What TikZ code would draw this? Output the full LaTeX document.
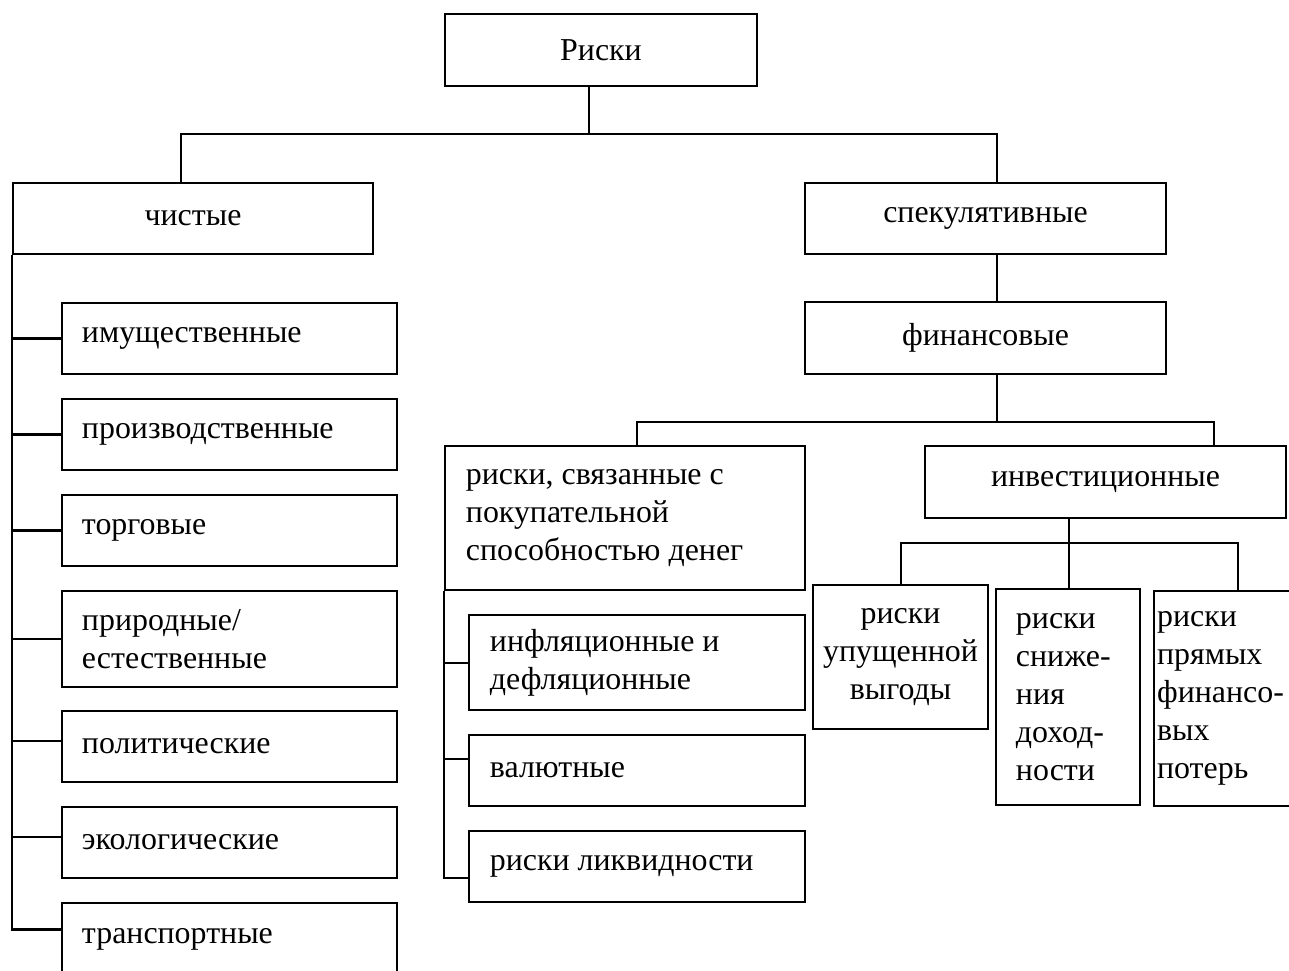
\documentclass[tikz,border=0pt]{standalone}
\usepackage{fontspec}
\setmainfont{Liberation Serif}

\begin{document}
\begin{tikzpicture}[x=0.42pt, y=-0.42pt,
    every node/.style={font=\fontsize{13.4pt}{16pt}\selectfont},
    cbox/.style={draw, line width=0.85pt, align=center, inner sep=0pt},
    lbox/.style={draw, line width=0.85pt, align=flush left, inner ysep=0pt, inner xsep=8.4pt},
    link/.style={line width=0.85pt}
]
\useasboundingbox (0,0) rectangle (1289,970);

% Top levels
\node[cbox, minimum width=131pt, minimum height=30.2pt] (risks) at (601,50) {Риски};
\node[cbox, minimum width=151.2pt, minimum height=29.8pt] (pure) at (193,218.5) {чистые};
\node[cbox, minimum width=151.6pt, minimum height=29.8pt] (spec) at (985.5,218.5) {спекулятивные};
\node[cbox, minimum width=151.6pt, minimum height=30.2pt] (fin) at (985.5,338) {финансовые};

% Pure risks
\node[lbox, text width=123.9pt, minimum height=29.8pt] (imus) at (229.5,338.5) {имущественные};
\node[lbox, text width=123.9pt, minimum height=29.8pt] (proizv) at (229.5,434.5) {производственные};
\node[lbox, text width=123.9pt, minimum height=29.8pt] (torg) at (229.5,530.5) {торговые};
\node[lbox, text width=123.9pt, minimum height=40.3pt] (prirod) at (229.5,639) {природные/\\естественные};
\node[lbox, text width=123.9pt, minimum height=29.8pt] (polit) at (229.5,746.5) {политические};
\node[lbox, text width=123.9pt, minimum height=29.8pt] (eko) at (229.5,842.5) {экологические};
\node[lbox, text width=123.9pt, minimum height=30.2pt] (transp) at (229.5,939) {транспортные};

% Financial risks
\node[lbox, inner xsep=8.8pt, text width=133.6pt, minimum height=60.5pt] (pokup) at (625,518) {риски, связанные с\\покупательной\\способностью денег};
\node[cbox, minimum width=151.6pt, minimum height=30.2pt] (invest) at (1105.5,482) {инвестиционные};

\node[lbox, inner xsep=8.8pt, text width=123.5pt, minimum height=39.9pt] (infl) at (637,662.5) {инфляционные и\\дефляционные};
\node[lbox, inner xsep=8.8pt, text width=123.5pt, minimum height=29.8pt] (valut) at (637,770.5) {валютные};
\node[lbox, inner xsep=8.8pt, text width=123.5pt, minimum height=29.8pt] (likv) at (637,866.5) {риски ликвидности};

\node[cbox, minimum width=73.5pt, minimum height=60.5pt] (upush) at (900.5,657) {риски\\упущенной\\выгоды};
\node[lbox, text width=43.7pt, minimum height=90.7pt] (snizh) at (1068,697) {риски\\сниже-\\ния\\доход-\\ности};
\node[lbox, inner xsep=1.3pt, text width=58.7pt, minimum height=90.3pt] (pryam) at (1227,698.5) {риски\\прямых\\финансо-\\вых\\потерь};

% Junctions
\coordinate (j0) at (589,134);
\coordinate (jL) at (181,134);
\coordinate (jR) at (997,134);
\coordinate (f0) at (997,422);
\coordinate (fL) at (637,422);
\coordinate (fR) at (1214,422);
\coordinate (i0) at (1069,543);
\coordinate (iL) at (901,543);
\coordinate (iR) at (1238,543);

% Links
\draw[link] (risks.south -| j0) -- (j0);
\draw[link] (pure.north -| jL) |- (jR) -- (spec.north -| jR);
\draw[link] (spec.south -| jR) -- (fin.north -| jR);
\draw[link] (fin.south -| f0) -- (f0);
\draw[link] (pokup.north -| fL) |- (fR) -- (invest.north -| fR);
\draw[link] (invest.south -| i0) -- (snizh.north -| i0);
\draw[link] (upush.north -| iL) |- (iR) -- (pryam.north -| iR);

\foreach \b/\s in {imus/0, proizv/0, torg/0, prirod/0, polit/2.5, eko/2.5, transp/4}
    \draw[link] ([yshift=\s pt]\b.west) -| (pure.south west);
\foreach \b/\s in {infl/0, valut/5, likv/-5}
    \draw[link] ([yshift=\s pt]\b.west) -| (pokup.south west);

\end{tikzpicture}
\end{document}
